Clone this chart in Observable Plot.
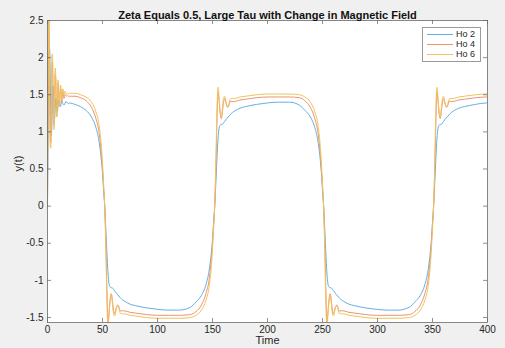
<!DOCTYPE html>
<html>
<head>
<meta charset="utf-8">
<script src="https://cdn.jsdelivr.net/npm/d3@7"></script>
<script src="https://cdn.jsdelivr.net/npm/@observablehq/plot@0.6"></script>
<style>
html, body { margin: 0; padding: 0; background: #f0f0f0; }
#wrap { position: relative; width: 505px; height: 348px; font-family: "Liberation Sans", Arial, sans-serif; }
#legend { position: absolute; left: 422px; top: 27px; width: 57px; height: 32px; background: #fff; border: 1px solid #9a9a9a; padding-top: 1px; }
.row { position: relative; height: 10px; }
.row .sw { position: absolute; left: 4px; top: 5px; width: 26px; height: 0; border-top: 1px solid; }
.row .lb { position: absolute; left: 33px; top: 0; font-size: 9px; line-height: 10px; color: #262626; }
</style>
</head>
<body>
<div id="wrap"><div id="chart"></div><div id="legend"></div></div>
<script>
const seriesNames = ["Ho 2", "Ho 4", "Ho 6"];
const seriesColors = ["#66afe1", "#ea9570", "#f2c25c"];
const xTicks = [0, 50, 100, 150, 200, 250, 300, 350, 400];
const yTicks = [-1.5, -1, -0.5, 0, 0.5, 1, 1.5, 2, 2.5];
const titleText = "Zeta Equals 0.5, Large Tau with Change in Magnetic Field";

const time = [
  0,0.5,1,1.5,2,2.5,3,3.5,4,4.5,5,5.5,6,6.5,7,7.5,8,8.5,9,9.5,10,10.5,11,11.5,12,13,14,15,16,17,18,19,20,
  25,30,35,40,44,47,49,50,51,52,53,54,55,56,57,58,59,60,61,62,63,64,65,66,68,70,75,80,90,100,110,120,
  130,135,140,144,147,149,150,151,152,153,154,155,156,157,158,159,160,161,162,163,164,165,166,168,170,175,180,190,200,210,220,
  229,234,239,243,246,248,249,250,251,252,253,254,255,256,257,258,259,260,261,262,263,264,265,267,269,274,279,289,299,309,319,
  329,334,339,343,346,348,349,350,351,352,353,354,355,356,357,358,359,360,361,362,363,364,365,367,369,374,379,389,399,400
];
const ho2 = [
  0,0.9,1.7,2.05,2.12,1.7,1.15,0.95,1.1,1.45,1.62,1.5,1.25,1.18,1.32,1.45,1.42,1.32,1.28,1.33,1.4,1.42,1.38,1.34,1.35,1.41,1.38,1.36,1.39,1.41,1.39,1.38,1.39,
  1.37,1.34,1.29,1.2,1.06,0.86,0.62,0.45,0.22,0,-0.3,-0.62,-0.9,-1.05,-1.09,-1.1,-1.1,-1.12,-1.14,-1.16,-1.18,-1.2,-1.21,-1.23,-1.26,-1.28,-1.32,-1.34,-1.37,-1.39,-1.4,-1.4,
  -1.36,-1.29,-1.2,-1.06,-0.86,-0.62,-0.45,-0.22,0,0.3,0.62,0.9,1.05,1.09,1.1,1.1,1.12,1.14,1.16,1.18,1.2,1.21,1.23,1.26,1.28,1.32,1.34,1.37,1.39,1.4,1.4,
  1.36,1.29,1.2,1.06,0.86,0.62,0.45,0.22,0,-0.3,-0.62,-0.9,-1.05,-1.09,-1.1,-1.1,-1.12,-1.14,-1.16,-1.18,-1.2,-1.21,-1.23,-1.26,-1.28,-1.32,-1.34,-1.37,-1.39,-1.4,-1.4,
  -1.36,-1.29,-1.2,-1.06,-0.86,-0.62,-0.45,-0.22,0,0.3,0.62,0.9,1.05,1.09,1.1,1.1,1.12,1.14,1.16,1.18,1.2,1.21,1.23,1.26,1.28,1.32,1.34,1.37,1.39,1.39
];
const ho4 = [
  0,1.5,2.6,2.35,1.55,0.9,0.85,1.3,1.9,1.95,1.6,1.15,1.1,1.45,1.78,1.7,1.32,1.22,1.36,1.65,1.6,1.38,1.35,1.52,1.58,1.4,1.55,1.45,1.5,1.48,1.49,1.48,1.48,
  1.48,1.46,1.42,1.33,1.18,0.98,0.7,0.5,0.25,0,-0.45,-1.1,-1.56,-1.42,-1.25,-1.18,-1.27,-1.4,-1.45,-1.4,-1.35,-1.33,-1.36,-1.41,-1.41,-1.41,-1.43,-1.44,-1.46,-1.47,-1.47,-1.47,
  -1.46,-1.42,-1.33,-1.18,-0.98,-0.7,-0.5,-0.25,0,0.45,1.1,1.54,1.42,1.25,1.18,1.27,1.4,1.45,1.4,1.35,1.33,1.36,1.41,1.41,1.41,1.43,1.44,1.46,1.47,1.47,1.47,
  1.46,1.42,1.33,1.18,0.98,0.7,0.5,0.25,0,-0.45,-1.1,-1.56,-1.42,-1.25,-1.18,-1.27,-1.4,-1.45,-1.4,-1.35,-1.33,-1.36,-1.41,-1.41,-1.41,-1.43,-1.44,-1.46,-1.47,-1.47,-1.47,
  -1.46,-1.42,-1.33,-1.18,-0.98,-0.7,-0.5,-0.25,0,0.45,1.1,1.54,1.42,1.25,1.18,1.27,1.4,1.45,1.4,1.35,1.33,1.36,1.41,1.41,1.41,1.43,1.44,1.46,1.47,1.47
];
const ho6 = [
  0,1.6,2.75,2.45,1.5,0.8,0.78,1.3,2.02,2.05,1.6,1.08,1.03,1.5,1.86,1.76,1.3,1.2,1.36,1.7,1.66,1.4,1.34,1.55,1.63,1.42,1.58,1.48,1.55,1.51,1.52,1.51,1.52,
  1.52,1.5,1.47,1.4,1.27,1.08,0.8,0.58,0.3,0,-0.55,-1.25,-1.65,-1.45,-1.27,-1.2,-1.3,-1.45,-1.48,-1.42,-1.36,-1.34,-1.38,-1.44,-1.45,-1.45,-1.47,-1.48,-1.5,-1.51,-1.51,-1.51,
  -1.5,-1.47,-1.4,-1.27,-1.08,-0.8,-0.58,-0.3,0,0.55,1.25,1.6,1.45,1.27,1.2,1.3,1.45,1.48,1.42,1.36,1.34,1.38,1.44,1.45,1.45,1.47,1.48,1.5,1.51,1.51,1.51,
  1.5,1.47,1.4,1.27,1.08,0.8,0.58,0.3,0,-0.55,-1.25,-1.65,-1.45,-1.27,-1.2,-1.3,-1.45,-1.48,-1.42,-1.36,-1.34,-1.38,-1.44,-1.45,-1.45,-1.47,-1.48,-1.5,-1.51,-1.51,-1.51,
  -1.5,-1.47,-1.4,-1.27,-1.08,-0.8,-0.58,-0.3,0,0.55,1.25,1.6,1.45,1.27,1.2,1.3,1.45,1.48,1.42,1.36,1.34,1.38,1.44,1.45,1.45,1.47,1.48,1.5,1.51,1.51
];

const seriesValues = [ho2, ho4, ho6];
const rows = [];
seriesNames.forEach((name, i) => {
  time.forEach((t, j) => rows.push({series: name, t, v: seriesValues[i][j]}));
});

const W = 505, H = 348, mL = 47, mR = 18, mT = 20, mB = 26;
const plotW = W - mL - mR, plotH = H - mT - mB;
const tickLen = 4;
const fmt = d => String(d);

const chart = Plot.plot({
  width: W, height: H,
  marginLeft: mL, marginRight: mR, marginTop: mT, marginBottom: mB,
  style: {background: "#f0f0f0", fontFamily: "'Liberation Sans', Arial, sans-serif", fontSize: "10px", color: "#262626"},
  x: {domain: [0, 400]},
  y: {domain: [-1.567, 2.5]},
  color: {domain: seriesNames, range: seriesColors},
  marks: [
    Plot.frame({fill: "white", stroke: null}),
    Plot.line(rows, {x: "t", y: "v", z: "series", stroke: "series", curve: "monotone-x", strokeWidth: 1, clip: true}),
    Plot.tickX(xTicks, {x: d => d, insetTop: plotH - tickLen, stroke: "#444", strokeWidth: 0.6}),
    Plot.tickX(xTicks, {x: d => d, insetBottom: plotH - tickLen, stroke: "#444", strokeWidth: 0.6}),
    Plot.tickY(yTicks, {y: d => d, insetRight: plotW - tickLen, stroke: "#444", strokeWidth: 0.6}),
    Plot.tickY(yTicks, {y: d => d, insetLeft: plotW - tickLen, stroke: "#444", strokeWidth: 0.6}),
    Plot.axisX(xTicks, {tickSize: 0, tickPadding: 3, tickFormat: fmt, label: null, fontSize: 10}),
    Plot.axisY(yTicks, {tickSize: 0, tickPadding: 4, tickFormat: fmt, label: null, fontSize: 10}),
    Plot.frame({stroke: "#6a6a6a", strokeWidth: 0.8}),
    Plot.text([titleText], {text: d => d, frameAnchor: "top", dy: -9, fontWeight: "bold", fontSize: 11, fill: "#111"}),
    Plot.text(["Time"], {text: d => d, frameAnchor: "bottom", dy: 21.5, fontSize: 11, fill: "#262626"}),
    Plot.text(["y(t)"], {text: d => d, frameAnchor: "left", dx: -29, rotate: -90, fontSize: 11, fill: "#262626"})
  ]
});
document.getElementById("chart").appendChild(chart);

const legend = document.getElementById("legend");
seriesNames.forEach((name, i) => {
  const row = document.createElement("div");
  row.className = "row";
  const sw = document.createElement("div");
  sw.className = "sw";
  sw.style.borderTopColor = seriesColors[i];
  const lb = document.createElement("div");
  lb.className = "lb";
  lb.textContent = name;
  row.appendChild(sw);
  row.appendChild(lb);
  legend.appendChild(row);
});
</script>
</body>
</html>
